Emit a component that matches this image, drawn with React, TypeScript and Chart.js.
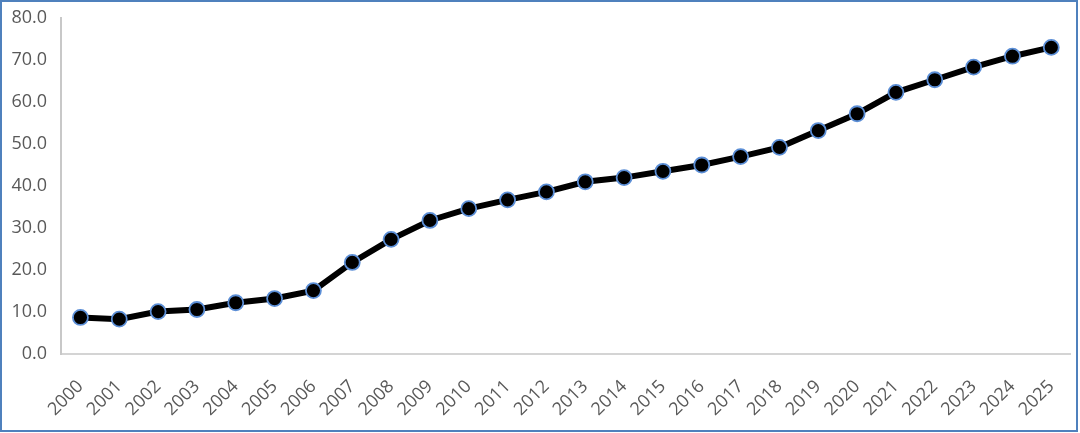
import React, { useEffect, useRef } from "react";
import { Chart, registerables } from "chart.js";

Chart.register(...registerables);

const years = [
  "2000", "2001", "2002", "2003", "2004", "2005", "2006", "2007", "2008", "2009",
  "2010", "2011", "2012", "2013", "2014", "2015", "2016", "2017", "2018", "2019",
  "2020", "2021", "2022", "2023", "2024", "2025",
];
const values = [
  8.7, 8.3, 10.1, 10.6, 12.2, 13.2, 15.1, 21.8, 27.3, 31.8,
  34.6, 36.7, 38.6, 41.0, 42.0, 43.5, 45.0, 47.0, 49.2, 53.2,
  57.2, 62.3, 65.3, 68.3, 70.9, 73.0,
];
const yMin = 0;
const yMax = 80;
const yStep = 10;

const FONT = "'Open Sans', 'Noto Sans', sans-serif";

export default function App() {
  const ref = useRef<HTMLCanvasElement | null>(null);

  useEffect(() => {
    document.body.style.margin = "0";
    const ctx = ref.current;
    if (!ctx) return;
    const chart = new Chart(ctx, {
      type: "line",
      data: {
        labels: years,
        datasets: [
          {
            data: values,
            borderColor: "#000000",
            borderWidth: 6,
            tension: 0,
            pointRadius: 7.5,
            pointBorderWidth: 1.8,
            pointBorderColor: "#5b8ed6",
            pointBackgroundColor: "#000000",
          },
        ],
      },
      options: {
        animation: false,
        responsive: false,
        maintainAspectRatio: false,
        layout: { padding: { left: 0, right: 1, top: 18, bottom: 0 } },
        plugins: { legend: { display: false }, tooltip: { enabled: false } },
        scales: {
          x: {
            offset: true,
            grid: { display: false, drawTicks: false },
            border: { display: true, color: "#d4d4d4", width: 2 },
            ticks: {
              color: "#595959",
              font: { family: FONT, size: 18 },
              minRotation: 45,
              maxRotation: 45,
              autoSkip: false,
              padding: 22,
            },
            afterFit: (scale: any) => {
              scale.height = 79;
              scale.paddingLeft = 0;
              scale.paddingRight = 0;
            },
          },
          y: {
            min: yMin,
            max: yMax,
            grid: { display: false, drawTicks: false },
            border: { display: true, color: "#c8c8c8", width: 2 },
            ticks: {
              stepSize: yStep,
              color: "#595959",
              font: { family: FONT, size: 18 },
              padding: 14,
              callback: (v: any) => Number(v).toFixed(1),
            },
            afterFit: (scale: any) => {
              scale.width = 61;
              scale.paddingTop = 0;
              scale.paddingBottom = 0;
            },
          },
        },
      },
    });
    return () => chart.destroy();
  }, []);

  return (
    <div style={{ position: "relative", width: 1080, height: 433, background: "#fff" }}>
      <canvas ref={ref} width={1080} height={433} style={{ display: "block" }} />
      <div
        style={{
          position: "absolute",
          left: 0,
          top: 0,
          width: 1078,
          height: 432,
          boxSizing: "border-box",
          border: "2px solid #4f81bd",
          pointerEvents: "none",
        }}
      />
    </div>
  );
}
